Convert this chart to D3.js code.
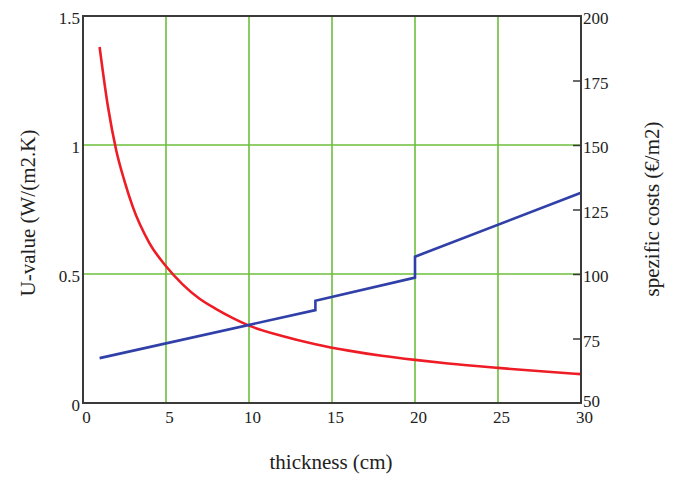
<!DOCTYPE html>
<html>
<head>
<meta charset="utf-8">
<script src="https://cdn.jsdelivr.net/npm/d3@7"></script>
<style>
  html, body { margin: 0; padding: 0; background: #fff; }
  svg { display: block; }
  text { font-family: "Liberation Serif", "Times New Roman", serif; fill: #222; }
</style>
</head>
<body>
<svg id="chart" width="679" height="477"></svg>
<script>
// ---- data ----
const uThickness = [1, 1.5, 2, 2.5, 3, 4, 5, 6, 7, 8, 9, 10, 12, 14, 16, 18, 20, 22, 25, 28, 30];
const uValues    = [1.38, 1.15, 0.98, 0.86, 0.76, 0.62, 0.53, 0.46, 0.405, 0.365, 0.33, 0.30, 0.26, 0.228, 0.203, 0.183, 0.167, 0.153, 0.136, 0.121, 0.112];

const costThickness = [1, 14, 14, 20, 20, 30];
const costValues    = [67.4, 86.0, 89.6, 98.6, 106.7, 131.5];

const xTicks = [0, 5, 10, 15, 20, 25, 30];
const uTicks = [0, 0.5, 1, 1.5];
const costTicks = [50, 75, 100, 125, 150, 175, 200];

const xLabel = "thickness (cm)";
const uLabel = "U-value (W/(m2.K)";
const costLabel = "spezific costs (€/m2)";

// ---- layout ----
const svg = d3.select("#chart");
const L = 83, R = 581, T = 16, B = 403;

const x = d3.scaleLinear().domain([0, 30]).range([L, R]);
const yU = d3.scaleLinear().domain([0, 1.5]).range([B, T]);
const yC = d3.scaleLinear().domain([50, 200]).range([B, T]);

const green = "#6cbf3c";

// grid
svg.append("g").selectAll("line").data(xTicks.slice(1, -1)).join("line")
  .attr("x1", d => x(d)).attr("x2", d => x(d)).attr("y1", T).attr("y2", B)
  .attr("stroke", green).attr("stroke-width", 1.6);
svg.append("g").selectAll("line").data(uTicks.slice(1, -1)).join("line")
  .attr("y1", d => yU(d)).attr("y2", d => yU(d)).attr("x1", L).attr("x2", R)
  .attr("stroke", green).attr("stroke-width", 1.6);

// lines
svg.append("path").datum(uThickness.map((t, i) => [t, uValues[i]]))
  .attr("fill", "none").attr("stroke", "#ee1c25").attr("stroke-width", 2.6)
  .attr("d", d3.line().x(d => x(d[0])).y(d => yU(d[1])).curve(d3.curveMonotoneX));

svg.append("path").datum(costThickness.map((t, i) => [t, costValues[i]]))
  .attr("fill", "none").attr("stroke", "#3040a8").attr("stroke-width", 2.6)
  .attr("d", d3.line().x(d => x(d[0])).y(d => yC(d[1])));

// frame
svg.append("rect").attr("x", L).attr("y", T).attr("width", R - L).attr("height", B - T)
  .attr("fill", "none").attr("stroke", "#3a3a3a").attr("stroke-width", 2);

// axes
const fs = 17;
const gx = svg.append("g").attr("transform", `translate(0,${B})`)
  .call(d3.axisBottom(x).tickValues(xTicks).tickSize(0).tickPadding(8).tickFormat(d3.format("d")));
gx.select(".domain").remove();
gx.selectAll("text").attr("dx", 3);

const gl = svg.append("g").attr("transform", `translate(${L},0)`)
  .call(d3.axisLeft(yU).tickValues(uTicks).tickSize(0).tickPadding(3).tickFormat(d => d === 0 ? "0" : String(d)));
gl.select(".domain").remove();
gl.selectAll("text").attr("dy", "0.45em");

const gr = svg.append("g").attr("transform", `translate(${R},0)`)
  .call(d3.axisRight(yC).tickValues(costTicks).tickSizeInner(-8).tickSizeOuter(0).tickPadding(2).tickFormat(d3.format("d")));
gr.select(".domain").remove();
gr.selectAll("line").attr("stroke", "#3a3a3a").attr("stroke-width", 1.5)
  .filter(d => d === 50 || d === 200).remove();
gr.selectAll("text").attr("dy", d => d === 50 ? "0.2em" : "0.45em");

[gx, gl, gr].forEach(g => g.selectAll("text")
  .style("font-family", '"Liberation Serif", "Times New Roman", serif')
  .style("font-size", fs + "px").attr("fill", "#222"));

// titles
svg.append("text").attr("x", 331).attr("y", 469).attr("text-anchor", "middle")
  .style("font-size", "21px").text(xLabel);
svg.append("text").attr("transform", "translate(35,213) rotate(-90)").attr("text-anchor", "middle")
  .style("font-size", "21px").text(uLabel);
svg.append("text").attr("transform", "translate(659,209) rotate(-90)").attr("text-anchor", "middle")
  .style("font-size", "21px").text(costLabel);
</script>
</body>
</html>
